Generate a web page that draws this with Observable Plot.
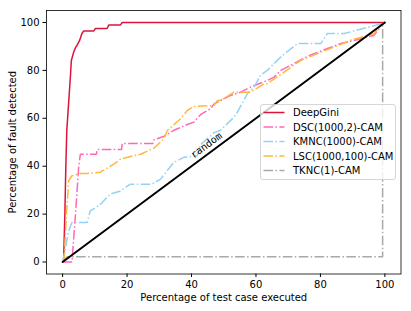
<!DOCTYPE html>
<html>
<head>
<meta charset="utf-8">
<script src="https://cdn.jsdelivr.net/npm/d3@7"></script>
<script src="https://cdn.jsdelivr.net/npm/@observablehq/plot@0.6"></script>
<style>
  html, body { margin: 0; padding: 0; background: white; }
  #chart { position: relative; width: 411px; height: 311px; }
  #chart svg { display: block; }
</style>
</head>
<body>
<div id="chart"></div>
<script>
// ---- data ----
const seriesNames = ["DeepGini", "DSC(1000,2)-CAM", "KMNC(1000)-CAM", "LSC(1000,100)-CAM", "TKNC(1)-CAM"];
const seriesColors = ["#DC143C", "#FF69B4", "#95D2F5", "#FFB73D", "#A9A9A9"];

const deepGiniX = [0, 0.3, 0.7, 1.0, 1.3, 1.7, 2.4, 2.7, 3.4, 4.0, 4.5, 5.3, 6.0, 6.5, 9.6, 10.2, 13.8, 14.3, 17.9, 18.5, 100];
const deepGiniY = [0, 0, 20, 40, 55, 63, 77, 84, 87.5, 89.5, 90.5, 92.6, 95.4, 96.4, 96.4, 97.5, 97.5, 98.9, 98.9, 100, 100];

const dscX = [0, 2.9, 4.0, 5.0, 5.5, 10.5, 10.7, 18.3, 18.5, 28.0, 28.3, 31.5, 34.5, 38.7, 40.7, 42.8, 45.9, 47, 52, 55.2, 58.3, 63.5, 65.6, 67.7, 72, 76, 80, 86.3, 92, 96.7, 99.3, 100];
const dscY = [0, 0, 20, 40, 45, 45, 47, 47, 49.5, 49.5, 51, 52.5, 55, 57.4, 58.4, 61.5, 64, 66, 69.5, 70.9, 73, 75.8, 77.2, 80, 83, 85.9, 88, 91.2, 93, 94.7, 99.6, 100];

const kmncX = [0, 0.5, 1.4, 1.9, 2.9, 7.6, 8.6, 11.7, 14.8, 18, 21, 27.3, 28.3, 30.4, 34.5, 37.6, 41.8, 42.8, 47, 49, 53.2, 54.2, 57.3, 59.4, 61.4, 63.5, 68, 72.9, 80.1, 82.2, 87.4, 99.3, 100];
const kmncY = [0, 3, 9.5, 13, 16.5, 16.5, 21.4, 24, 28.4, 29.7, 32.5, 32.5, 33, 34.6, 41.6, 43.7, 44.4, 49, 54, 55, 60.5, 62.5, 70.2, 73, 78, 80, 86, 91.2, 91.2, 95.4, 95.4, 99.6, 100];

const lscX = [0, 0.5, 1.2, 1.9, 2.9, 5.5, 7.6, 11.7, 16, 17.4, 18, 22.1, 24.2, 28.3, 31.4, 32.5, 36.6, 38.7, 40.7, 44.9, 47, 48, 49, 53.2, 58.3, 62.5, 63.5, 68.7, 73.9, 79.1, 84.3, 89.5, 96.7, 99.3, 100];
const lscY = [0, 2, 20, 34, 36, 37, 37, 37.5, 41, 42.3, 43, 44.4, 45, 47.5, 51.4, 54.9, 59.8, 63.3, 64.9, 65.2, 65.4, 67.4, 67.4, 70.9, 70.9, 74.4, 74.4, 79.3, 84.2, 87, 89.8, 92.6, 95.4, 99.6, 100];

const tkncX = [0, 1.4, 99.3, 99.3, 100];
const tkncY = [0, 2.2, 2.2, 99, 100];

const randomX = [0, 100];
const randomY = [0, 100];
const randomLabel = [{x: 44.6, y: 48.7, text: "random"}];

const axisTicks = [0, 20, 40, 60, 80, 100];
const xLabel = "Percentage of test case executed";
const yLabel = "Percentage of fault detected";

// ---- build ----
const xs = [deepGiniX, dscX, kmncX, lscX, tkncX];
const ys = [deepGiniY, dscY, kmncY, lscY, tkncY];
const toRows = (X, Y) => X.map((x, i) => ({x, y: Y[i]}));
const dashes = [null, "9.6,2.4,1.5,2.4", "9.6,2.4,1.5,2.4", "9.6,2.4,1.5,2.4", "9.6,2.4,1.5,2.4"];

const W = 411, H = 311, mL = 46, mR = 10.5, mT = 10, mB = 37.5;
const xDomain = [-5, 105], yDomain = [-5, 105];
const angle = -Math.atan(((H - mT - mB) / (yDomain[1] - yDomain[0])) / ((W - mL - mR) / (xDomain[1] - xDomain[0]))) * 180 / Math.PI;

const lineMarks = seriesNames.map((name, i) =>
  Plot.line(toRows(xs[i], ys[i]), {
    x: "x", y: "y",
    stroke: seriesColors[i],
    strokeWidth: 1.5,
    strokeDasharray: dashes[i] || undefined,
    strokeLinejoin: "miter",
    strokeLinecap: "butt"
  })
);

const plot = Plot.plot({
  width: W, height: H,
  marginLeft: mL, marginRight: mR, marginTop: mT, marginBottom: mB,
  style: {fontFamily: "DejaVu Sans", fontSize: "10px", background: "white", color: "black", overflow: "visible"},
  x: {domain: xDomain, ticks: axisTicks, tickSize: 3.5, tickPadding: 3.5, label: null, tickFormat: d => String(d)},
  y: {domain: yDomain, ticks: axisTicks, tickSize: 3.5, tickPadding: 3.5, label: null, tickFormat: d => String(d)},
  marks: [
    ...lineMarks,
    Plot.line(toRows(randomX, randomY), {x: "x", y: "y", stroke: "black", strokeWidth: 2}),
    Plot.text(randomLabel, {x: "x", y: "y", text: "text", rotate: angle, fontFamily: "DejaVu Sans Mono", fontSize: 10, fill: "black", textAnchor: "middle", lineAnchor: "middle"}),
    Plot.frame({stroke: "black", strokeWidth: 0.8}),
    Plot.text([xLabel], {frameAnchor: "bottom", dy: 24, text: d => d, fontSize: 10, textAnchor: "middle", lineAnchor: "middle", fill: "black"}),
    Plot.text([yLabel], {frameAnchor: "left", dx: -34, rotate: -90, text: d => d, fontSize: 10, textAnchor: "middle", lineAnchor: "middle", fill: "black"})
  ]
});
const chart = document.getElementById("chart");
chart.appendChild(plot);

// ---- legend overlay ----
const lg = d3.select(chart).append("svg")
  .attr("width", W).attr("height", H)
  .style("position", "absolute").style("left", "0px").style("top", "0px")
  .style("font-family", "DejaVu Sans").style("font-size", "10px");
const bx = 260.5, by = 104.5, bw = 135, bh = 75;
lg.append("rect").attr("x", bx).attr("y", by).attr("width", bw).attr("height", bh)
  .attr("rx", 2.5).attr("fill", "white").attr("fill-opacity", 0.8)
  .attr("stroke", "#cccccc").attr("stroke-width", 0.8);
seriesNames.forEach((name, i) => {
  const cy = by + 8 + i * 14.5;
  lg.append("line").attr("x1", bx + 3).attr("x2", bx + 24).attr("y1", cy).attr("y2", cy)
    .attr("stroke", seriesColors[i]).attr("stroke-width", 1.5)
    .attr("stroke-dasharray", dashes[i] || null);
  lg.append("text").attr("x", bx + 32.5).attr("y", cy).attr("dy", "0.35em")
    .attr("fill", "black").text(name);
});
</script>
</body>
</html>
